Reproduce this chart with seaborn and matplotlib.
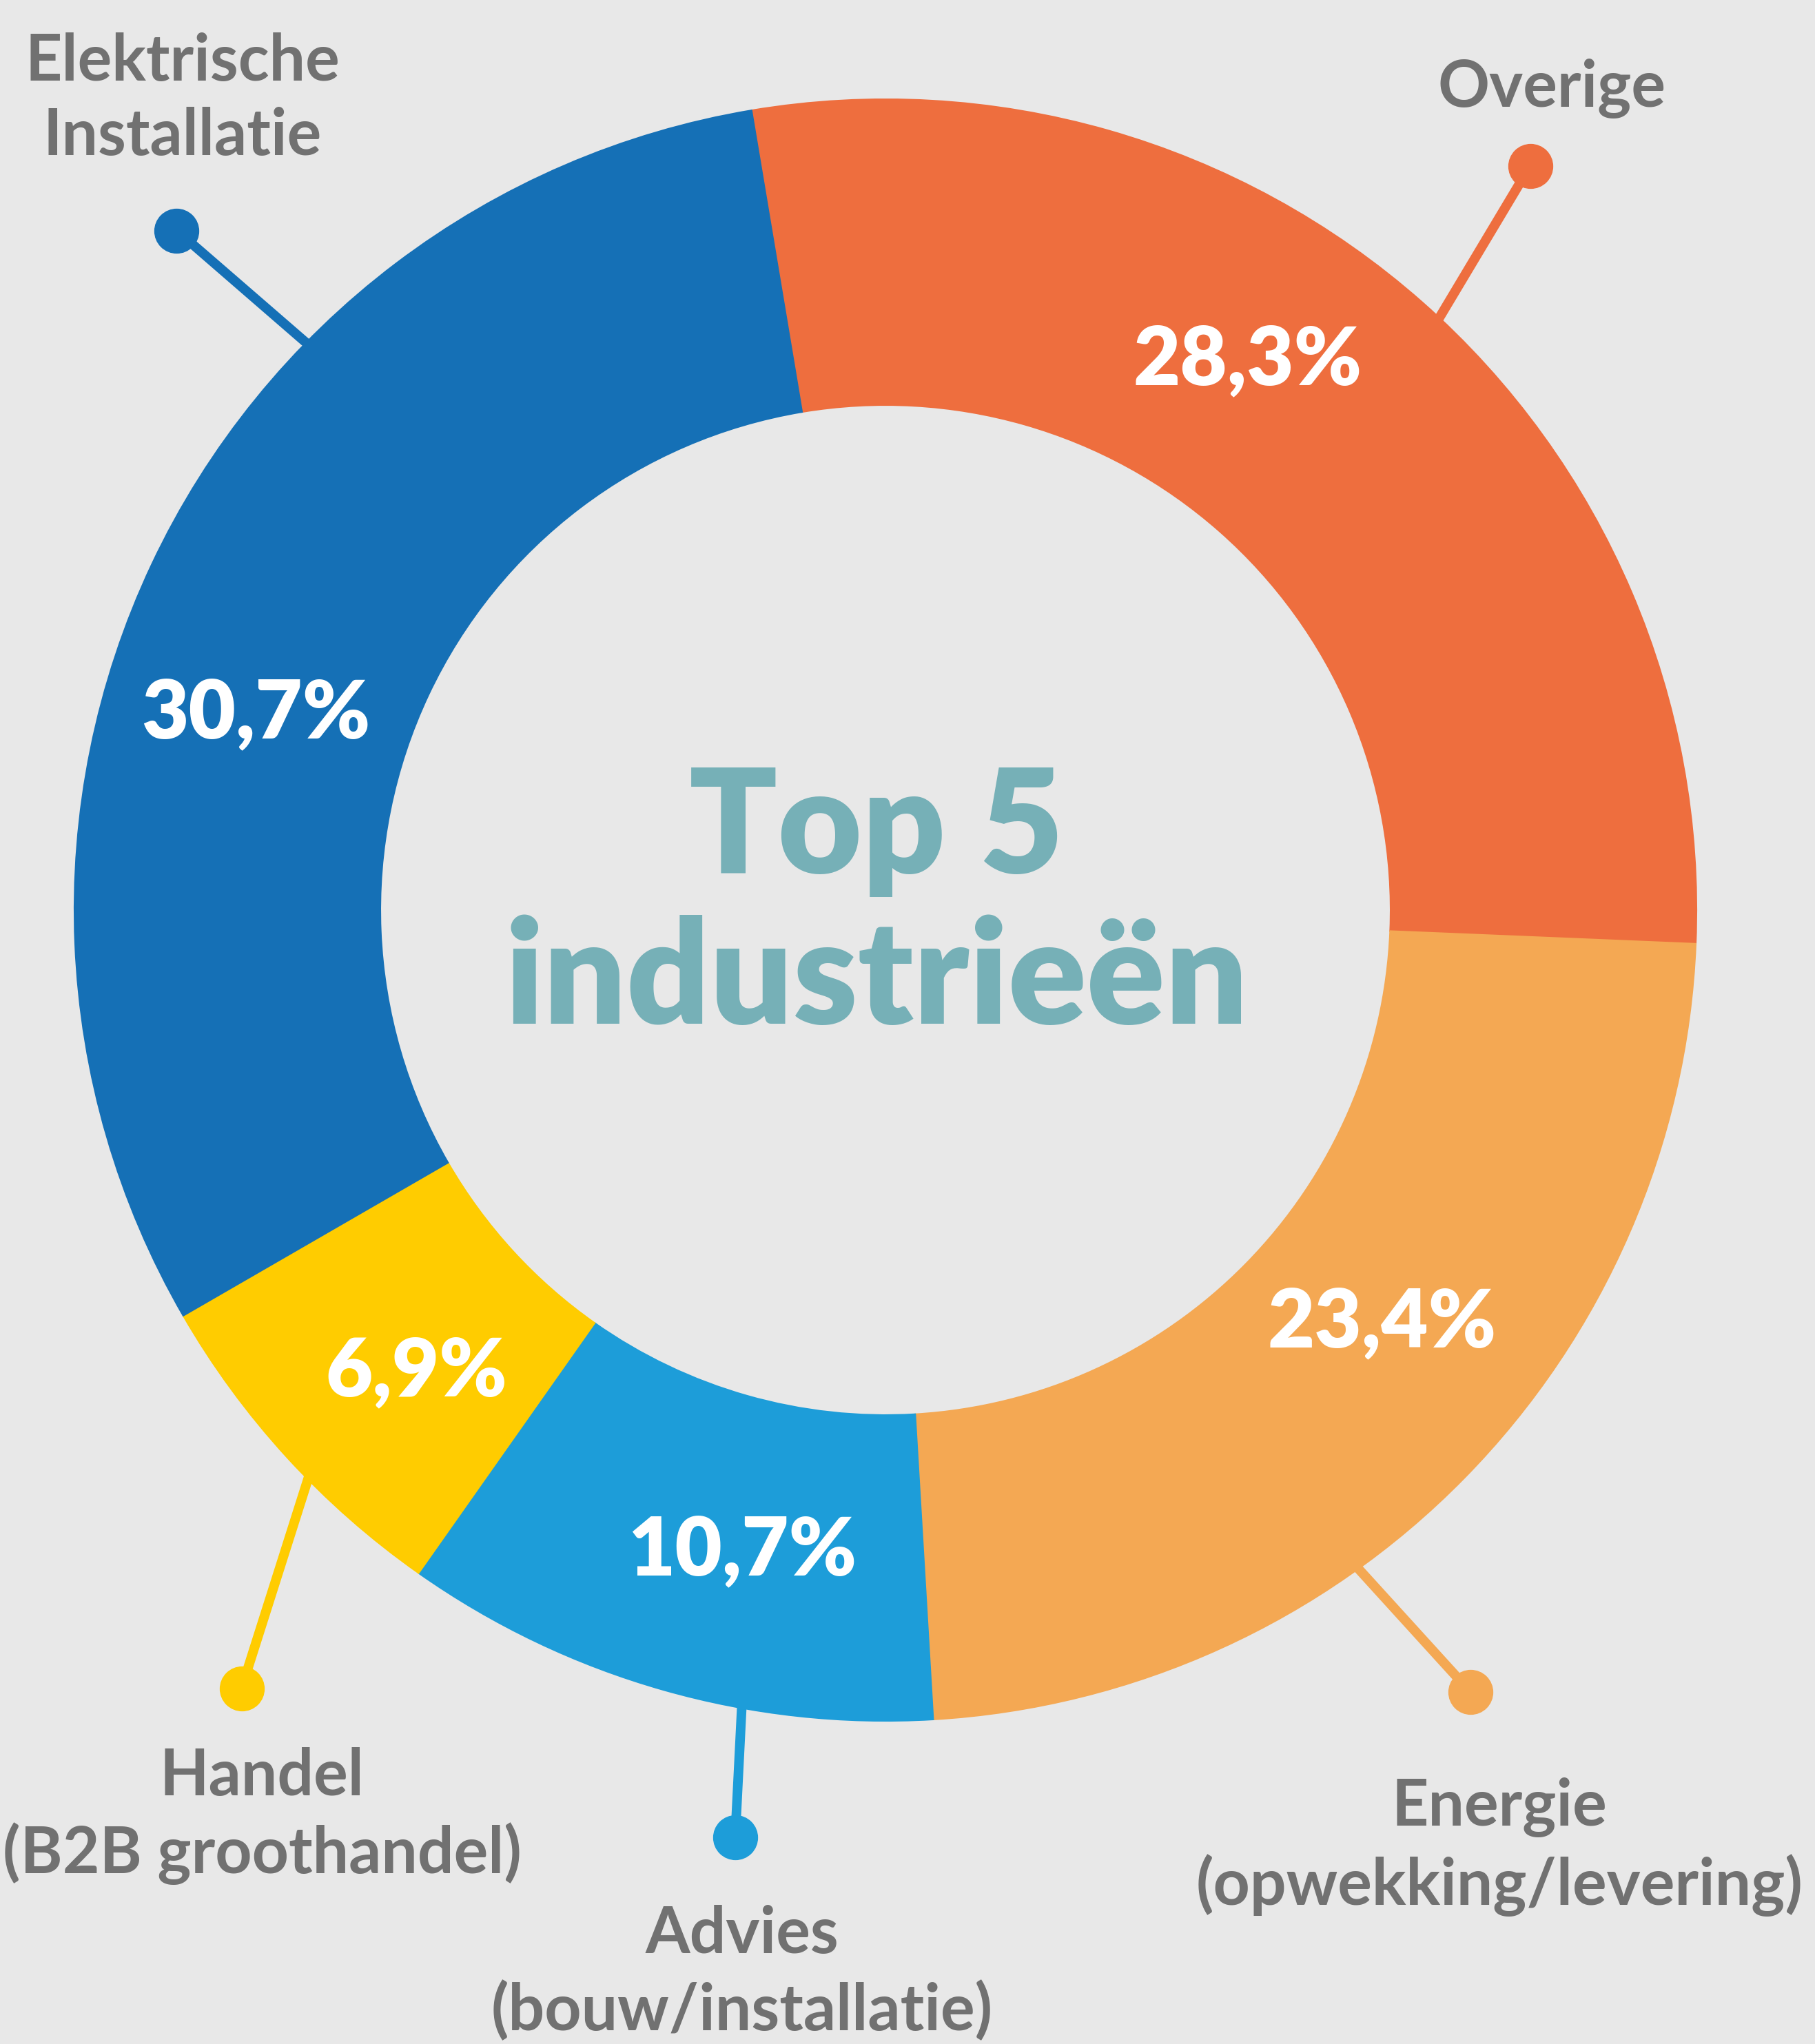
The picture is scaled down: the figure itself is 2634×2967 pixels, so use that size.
import numpy as np
import matplotlib
matplotlib.use("Agg")
import matplotlib.pyplot as plt
import seaborn as sns

# ---- data ----
categories = ["Overige", "Energie\n(opwekking/levering)", "Advies\n(bouw/installatie)",
              "Handel\n(B2B groothandel)", "Elektrische\nInstallatie"]
shares = [28.3, 23.4, 10.7, 6.9, 30.7]
colors = ["#EE6E3E", "#F4A853", "#1D9DD9", "#FFCC00", "#1570B6"]
center_title = ["Top 5", "industrieën"]

# ---- layout (pixels, image coords with y downward) ----
W, H = 2634, 2967
CX, CY = 1285, 1321
R_OUT, R_IN = 1177, 733
BG = "#E8E8E8"
GRAY = "#717171"
TEAL = "#76B0B7"

pct_pos = [(1811, 524), (2006, 1921), (1077, 2252), (604, 1992), (371, 1037)]
leaders = [(43.4, 40.9, 1429), (144.5, 143.2, 1418), (190.4, 189.2, 1364),
           (226.2, 219.6, 1466), (-45.5, -46.2, 1425)]
label_pos = [(2252, 129), (2176, 2681), (1077, 2864), (380, 2636), (265, 144)]

sns.set_theme(style="white")
plt.rcParams["font.family"] = ["Lato", "DejaVu Sans"]

fig = plt.figure(figsize=(W / 100, H / 100), dpi=100, facecolor=BG)
ax = fig.add_axes([0, 0, 1, 1])
ax.set_facecolor(BG)

def Y(y):
    return H - y

def polar(theta, r):
    t = np.deg2rad(theta)
    return CX + r * np.sin(t), CY - r * np.cos(t)

wedges, _ = ax.pie(shares, colors=colors, startangle=99.5, counterclock=False,
                   radius=R_OUT, center=(CX, Y(CY)),
                   wedgeprops=dict(width=R_OUT - R_IN, linewidth=1.5, zorder=3))
for w, c in zip(wedges, colors):
    w.set_edgecolor(c)

for (a_ring, a_dot, r_dot), c in zip(leaders, colors):
    x0, y0 = polar(a_ring, R_OUT - 30)
    x1, y1 = polar(a_dot, r_dot)
    ax.plot([x0, x1], [Y(y0), Y(y1)], color=c, lw=10, solid_capstyle="butt", zorder=2)
    ax.plot([x1], [Y(y1)], marker="o", ms=46, color=c, mec=c, zorder=2)

for v, (px, py) in zip(shares, pct_pos):
    ax.text(px, Y(py), f"{v:.1f}%".replace(".", ","), ha="center", va="center",
            fontsize=85, fontweight="heavy", color="white", zorder=5)

for lab, (px, py) in zip(categories, label_pos):
    ax.text(px, Y(py), lab, ha="center", va="center", fontsize=67,
            fontweight="bold", color=GRAY, linespacing=1.32, zorder=5)

ax.text(1272, Y(1205), center_title[0], ha="center", va="center",
        fontsize=152, fontweight="heavy", color=TEAL, zorder=5)
ax.text(1272, Y(1425), center_title[1], ha="center", va="center",
        fontsize=152, fontweight="heavy", color=TEAL, zorder=5)

ax.set_xlim(0, W)
ax.set_ylim(0, H)
ax.set_aspect("equal")
ax.axis("off")

fig.savefig("out.png", dpi=100, facecolor=BG)
